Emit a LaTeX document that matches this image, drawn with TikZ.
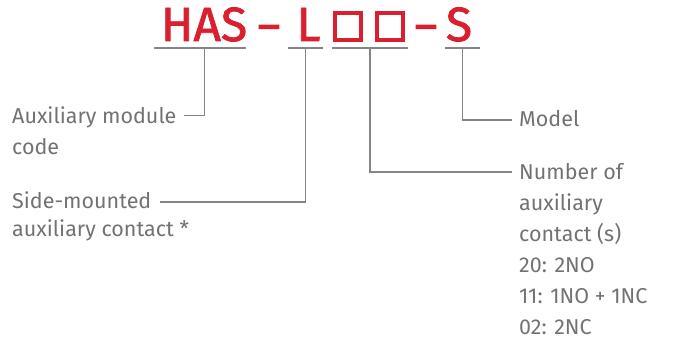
\documentclass[tikz,border=0pt]{standalone}
\usepackage{fontspec}
\setmainfont{Fira Sans}[Numbers=Lining]
\newfontfamily\codefont[FakeBold=1.6]{Fira Sans}
\usetikzlibrary{positioning,calc}

\definecolor{hwred}{HTML}{DA1F2E}
\definecolor{labgray}{HTML}{727272}
\definecolor{leadgray}{HTML}{858585}

\begin{document}
\begin{tikzpicture}[x=1pt,y=-1pt,
  code/.style={text=hwred,font=\codefont\fontsize{48}{48}\selectfont,inner sep=0pt,anchor=base},
  dashsym/.style={code,xscale=1.45},
  codebox/.style={draw=hwred,line width=3.6pt,minimum width=26.4pt,
                  minimum height=27.4pt,inner sep=0pt},
  lab/.style={text=labgray,font=\fontsize{21.5}{31}\selectfont,align=left,
              inner sep=0pt,anchor=base west},
  lead/.style={draw=leadgray,line width=1.1pt},
]
  \useasboundingbox (0,0) rectangle (681,347);
  % type code
  \node[code] (has) at (204,41) {HAS};
  \node[dashsym] (dasha) at (269,42) {-};
  \node[code] (ell) at (308.5,41) {L};
  \node[codebox] (boxa) at (348,26.5) {};
  \node[codebox] (boxb) at (390,26.5) {};
  \node[dashsym] (dashb) at (426,42) {-};
  \node[code] (ess) at (459,41) {S};
  % underlines
  \draw[lead] (154,48) coordinate (hasl) -- (246,48) coordinate (hasr);
  \draw[lead] (288,48) coordinate (elll) -- (323,48) coordinate (ellr);
  \draw[lead] (332,48) coordinate (boxl) -- (408,48) coordinate (boxr);
  \draw[lead] (445,48) coordinate (essl) -- (480,48) coordinate (essr);
  % labels (anchored at the baseline of their last line)
  \node[lab] (aux) at (12,155) {Auxiliary module\\code};
  \node[lab,font=\fontsize{21.5}{28}\selectfont] (side) at (12,237)
    {Side-mounted\\auxiliary contact *};
  \node[lab] (model) at (519,127) {Model};
  \node[lab] (num) at (519,335)
    {Number of\\auxiliary\\contact (s)\\20: 2NO\\11: 1NO + 1NC\\02: 2NC};
  \coordinate (auxtip) at ($(aux.base west)+(172,-39.5)$);
  \coordinate (sidetip) at ($(side.base west)+(148,-35)$);
  \coordinate (modeltip) at ($(model.base west)+(-7,-7)$);
  \coordinate (numtip) at ($(num.base west)+(-7,-163)$);
  % leaders
  \draw[lead] ($(hasl)!0.55!(hasr)$) |- (auxtip);
  \draw[lead] ($(elll)!0.5!(ellr)$) |- (sidetip);
  \draw[lead] ($(boxl)!0.5!(boxr)$) |- (numtip);
  \draw[lead] ($(essl)!0.5!(essr)$) |- (modeltip);
\end{tikzpicture}
\end{document}
